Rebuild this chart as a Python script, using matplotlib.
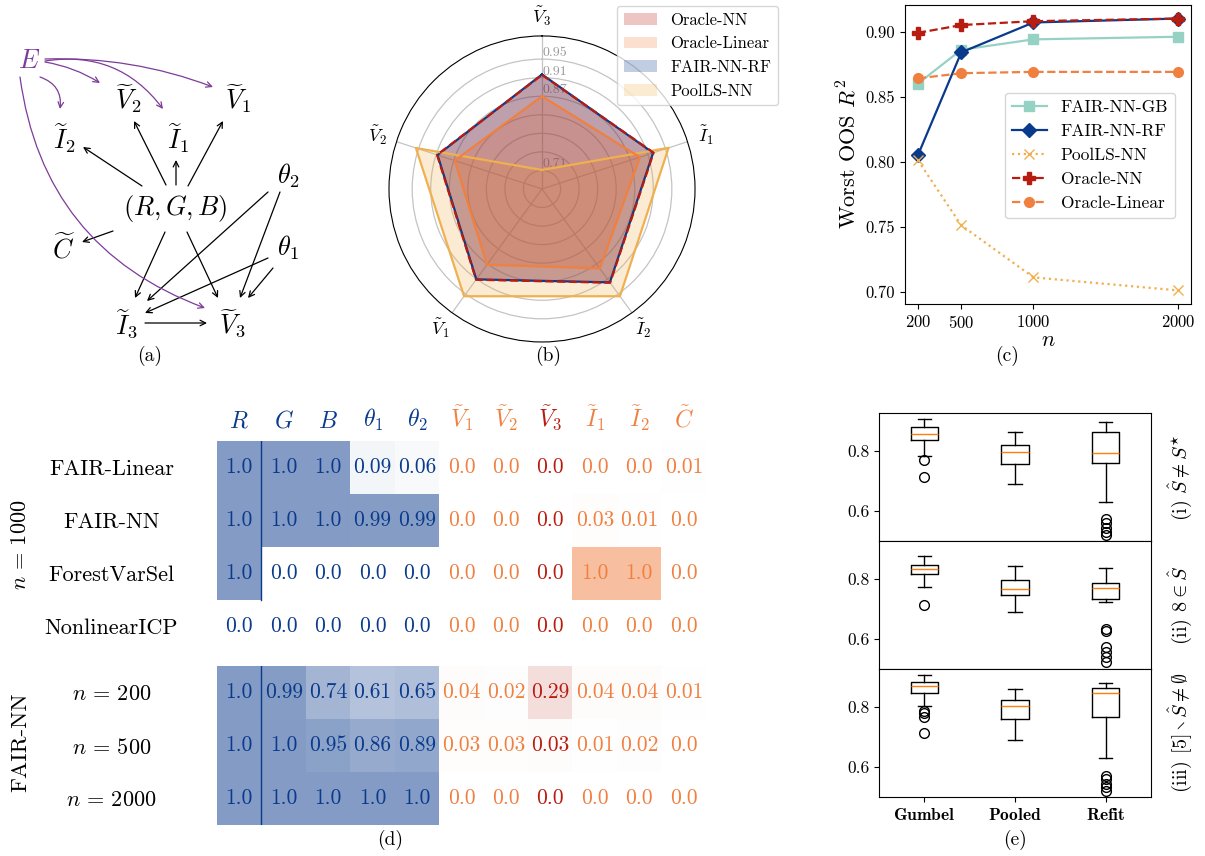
import numpy as np
import matplotlib
matplotlib.use("Agg")
import matplotlib.pyplot as plt
from matplotlib.colors import LinearSegmentedColormap, to_rgb

plt.rcParams['font.family'] = 'serif'
plt.rcParams['font.serif'] = ['cmr10']
plt.rcParams['mathtext.fontset'] = 'cm'
plt.rcParams['axes.formatter.use_mathtext'] = True
plt.rcParams['axes.unicode_minus'] = False

NAVY = '#0a3a8c'
TEAL = '#96d2c3'
GOLD = '#f0b050'
DARKRED = '#b81c10'
ORANGE = '#f08040'
PURPLE = '#7d3c98'

# ---- (b) radar: per-variable R^2 when that variable is intervened on
radar_axes = [r'$\tilde{V}_3$', r'$\tilde{I}_1$', r'$\tilde{I}_2$', r'$\tilde{V}_1$', r'$\tilde{V}_2$']
radar_oracle_nn = [0.916, 0.923, 0.920, 0.912, 0.908]
radar_oracle_lin = [0.870, 0.892, 0.882, 0.872, 0.868]
radar_fair_rf = [0.917, 0.922, 0.919, 0.911, 0.907]
radar_poolls = [0.711, 0.957, 0.956, 0.956, 0.956]

# ---- (c) worst out-of-sample R^2 vs sample size
n_values = [200, 500, 1000, 2000]
worst_fair_gb = [0.860, 0.886, 0.894, 0.896]
worst_fair_rf = [0.805, 0.884, 0.907, 0.910]
worst_poolls = [0.801, 0.751, 0.711, 0.701]
worst_oracle_nn = [0.899, 0.905, 0.908, 0.910]
worst_oracle_lin = [0.864, 0.868, 0.869, 0.869]

# ---- (d) selection frequencies
heat_cols = [r'$R$', r'$G$', r'$B$', r'$\theta_1$', r'$\theta_2$', r'$\tilde{V}_1$', r'$\tilde{V}_2$',
             r'$\tilde{V}_3$', r'$\tilde{I}_1$', r'$\tilde{I}_2$', r'$\tilde{C}$']
col_group = ['b', 'b', 'b', 'b', 'b', 'o', 'o', 'r', 'o', 'o', 'o']
methods_1000 = ['FAIR-Linear', 'FAIR-NN', 'ForestVarSel', 'NonlinearICP']
freq_1000 = [
    [1.0, 1.0, 1.0, 0.09, 0.06, 0.0, 0.0, 0.0, 0.0, 0.0, 0.01],
    [1.0, 1.0, 1.0, 0.99, 0.99, 0.0, 0.0, 0.0, 0.03, 0.01, 0.0],
    [1.0, 0.0, 0.0, 0.0, 0.0, 0.0, 0.0, 0.0, 1.0, 1.0, 0.0],
    [0.0, 0.0, 0.0, 0.0, 0.0, 0.0, 0.0, 0.0, 0.0, 0.0, 0.0],
]
sizes_fair = [r'$n\,=\,200$', r'$n\,=\,500$', r'$n\,=\,2000$']
freq_fair = [
    [1.0, 0.99, 0.74, 0.61, 0.65, 0.04, 0.02, 0.29, 0.04, 0.04, 0.01],
    [1.0, 1.0, 0.95, 0.86, 0.89, 0.03, 0.03, 0.03, 0.01, 0.02, 0.0],
    [1.0, 1.0, 1.0, 1.0, 1.0, 0.0, 0.0, 0.0, 0.0, 0.0, 0.0],
]

# ---- (e) boxplot summaries: (median, q1, q3, low whisker, high whisker, outliers)
box_methods = ['Gumbel', 'Pooled', 'Refit']
box_titles = [r'(i) $\hat{S} \neq S^{\star}$', r'(ii) $8 \in \hat{S}$',
              r'(iii) $[5] \setminus \hat{S} \neq \emptyset$']
box_stats = [
    [(0.858, 0.839, 0.881, 0.783, 0.908, [0.772, 0.713]),
     (0.796, 0.759, 0.822, 0.689, 0.863, []),
     (0.794, 0.762, 0.863, 0.630, 0.899, [0.572, 0.559, 0.544, 0.530, 0.519])],
    [(0.833, 0.817, 0.847, 0.773, 0.878, [0.714]),
     (0.767, 0.747, 0.797, 0.691, 0.844, []),
     (0.770, 0.733, 0.789, 0.724, 0.839, [0.633, 0.628, 0.572, 0.556, 0.539, 0.522])],
    [(0.871, 0.847, 0.884, 0.803, 0.908, [0.788, 0.780, 0.769, 0.713]),
     (0.803, 0.762, 0.823, 0.691, 0.862, []),
     (0.849, 0.769, 0.864, 0.630, 0.880, [0.571, 0.560, 0.543, 0.532, 0.519])],
]

fig = plt.figure(figsize=(12.05, 8.56), dpi=100)

# ================= (a) causal graph =================
ax_a = fig.add_axes([0, 1 - 370 / 856, 320 / 1205, 340 / 856])
ax_a.set_xlim(0, 320)
ax_a.set_ylim(370, 30)
ax_a.axis('off')

nodes = {
    'E': (29, 61, r'$E$', PURPLE),
    'V2': (128, 99, r'$\widetilde{V}_2$', 'black'),
    'V1': (238, 99, r'$\widetilde{V}_1$', 'black'),
    'I2': (65, 138, r'$\widetilde{I}_2$', 'black'),
    'I1': (178, 138, r'$\widetilde{I}_1$', 'black'),
    'th2': (288, 176, r'$\theta_2$', 'black'),
    'RGB': (175, 209, r'$(R, G, B)$', 'black'),
    'th1': (288, 248, r'$\theta_1$', 'black'),
    'C': (64, 248, r'$\widetilde{C}$', 'black'),
    'I3': (127, 324, r'$\widetilde{I}_3$', 'black'),
    'V3': (232, 324, r'$\widetilde{V}_3$', 'black'),
}
for x, y, lab, col in nodes.values():
    ax_a.text(x, y, lab, fontsize=19, color=col, ha='center', va='center')

black_edges = [
    ((142, 186), (83, 147)), ((166, 185), (134, 121)), ((176, 185), (176, 160)),
    ((188, 186), (223, 121)), ((113, 231), (82, 242)), ((165, 232), (135, 298)),
    ((187, 232), (218, 298)), ((268, 192), (147, 301)), ((280, 192), (240, 298)),
    ((268, 258), (145, 313)), ((273, 268), (248, 298)), ((145, 323), (207, 323)),
]
for start, end in black_edges:
    ax_a.annotate('', xy=end, xytext=start,
                  arrowprops=dict(arrowstyle='->', color='black', lw=0.9,
                                  shrinkA=0, shrinkB=0))

purple_edges = [
    ((40, 77), (60, 109), -0.4),
    ((45, 62), (100, 83), -0.1),
    ((45, 61), (163, 109), -0.3),
    ((45, 59), (213, 87), -0.1),
    ((20, 77), (205, 308), 0.3),
]
for start, end, rad in purple_edges:
    ax_a.annotate('', xy=end, xytext=start,
                  arrowprops=dict(arrowstyle='->', color=PURPLE, lw=0.9,
                                  shrinkA=0, shrinkB=0,
                                  connectionstyle=f'arc3,rad={rad}'))
ax_a.text(150, 356, '(a)', fontsize=14, ha='center', va='center')

# ================= (b) radar =================
ax_b = fig.add_axes([0.3228, 0.6005, 0.254, 0.3575], projection='polar')
ax_b.set_theta_offset(np.pi / 2)
ax_b.set_theta_direction(-1)
angles = np.linspace(0, 2 * np.pi, len(radar_axes), endpoint=False)
closed = np.append(angles, angles[0])


def radar_series(values, color, label, ls='-'):
    vals = np.append(values, values[0])
    fill = ax_b.fill(closed, vals, color=color, alpha=0.25, edgecolor='none', label=label)
    ax_b.plot(closed, vals, color=color, lw=1.6, ls=ls)
    return fill[0]


h_rf = radar_series(radar_fair_rf, NAVY, 'FAIR-NN-RF')
h_pool = radar_series(radar_poolls, GOLD, 'PoolLS-NN')
h_lin = radar_series(radar_oracle_lin, ORANGE, 'Oracle-Linear')
h_nn = radar_series(radar_oracle_nn, DARKRED, 'Oracle-NN', ls='--')
ax_b.set_axisbelow(True)
ax_b.set_ylim(0.67, 1.0)
ax_b.set_rgrids([0.71, 0.75, 0.79, 0.83, 0.87, 0.91, 0.95],
                labels=['0.71', '', '', '', '0.87', '0.91', '0.95'],
                fontsize=10, color='#999999')
ax_b.set_rlabel_position(0)
ax_b.set_xticks(angles)
ax_b.set_xticklabels(radar_axes, fontsize=13)
ax_b.grid(color='#c4c4c4', lw=0.9)
fig.legend([h_nn, h_lin, h_rf, h_pool], ['Oracle-NN', 'Oracle-Linear', 'FAIR-NN-RF', 'PoolLS-NN'],
           loc='upper right', bbox_to_anchor=(0.6525, 1.003), fontsize=12,
           handlelength=2.0)
fig.text(548 / 1205, 1 - 356 / 856, '(b)', fontsize=14, ha='center', va='center')

# ================= (c) worst R^2 vs n =================
ax_c = fig.add_axes([0.751, 0.6449, 0.2373, 0.3493])
ax_c.plot(n_values, worst_fair_gb, color=TEAL, marker='s', ms=7, lw=1.6, label='FAIR-NN-GB')
ax_c.plot(n_values, worst_fair_rf, color=NAVY, marker='D', ms=7, lw=1.6, label='FAIR-NN-RF')
ax_c.plot(n_values, worst_poolls, color=GOLD, marker='x', ms=7, lw=1.6, ls=':', label='PoolLS-NN')
ax_c.plot(n_values, worst_oracle_nn, color=DARKRED, marker='P', ms=8, lw=1.6, ls='--', label='Oracle-NN')
ax_c.plot(n_values, worst_oracle_lin, color=ORANGE, marker='o', ms=7, lw=1.6, ls='--', label='Oracle-Linear')
ax_c.set_xticks(n_values)
ax_c.set_yticks([0.70, 0.75, 0.80, 0.85, 0.90])
ax_c.set_yticklabels(['0.70', '0.75', '0.80', '0.85', '0.90'])
ax_c.tick_params(labelsize=12)
ax_c.set_ylabel(r'Worst OOS $R^2$', fontsize=16, labelpad=4)
ax_c.set_xlabel(r'$n$', fontsize=16, labelpad=0)
ax_c.legend(loc='upper right', bbox_to_anchor=(0.975, 0.735), fontsize=12.5)
fig.text(1007 / 1205, 1 - 356 / 856, '(c)', fontsize=14, ha='center', va='center')

# ================= (d) selection frequency tables =================
group_color = {'b': NAVY, 'o': ORANGE, 'r': DARKRED}


def half_cmap(color):
    rgb = np.array(to_rgb(color))
    return LinearSegmentedColormap.from_list('c', [(1, 1, 1), tuple(0.5 * rgb + 0.5)])


def freq_table(ax, freqs, rows, show_cols, line_rows):
    data = np.array(freqs)
    for g, col in group_color.items():
        mask = np.array([[c != g for c in col_group]] * len(rows))
        ax.imshow(np.ma.masked_array(data, mask), cmap=half_cmap(col), vmin=0, vmax=1,
                  aspect='auto', interpolation='nearest')
    for i in range(len(rows)):
        for j in range(len(heat_cols)):
            ax.text(j, i, f'{data[i, j]}', ha='center', va='center', fontsize=15.5,
                    color=group_color[col_group[j]])
    ax.plot([0.5, 0.5], [-0.5, line_rows - 0.5], color=NAVY, lw=1)
    ax.set_xlim(-0.5, len(heat_cols) - 0.5)
    ax.set_ylim(len(rows) - 0.5, -0.5)
    ax.set_yticks(range(len(rows)))
    ax.set_yticklabels(rows, fontsize=16, ha='center')
    ax.tick_params(axis='y', length=0, pad=76)
    if show_cols:
        ax.xaxis.tick_top()
        ax.set_xticks(range(len(heat_cols)))
        ax.set_xticklabels(heat_cols, fontsize=17)
        ax.tick_params(axis='x', length=0, pad=6)
        for lab, g in zip(ax.get_xticklabels(), col_group):
            lab.set_color(group_color[g])
    else:
        ax.set_xticks([])
    for s in ax.spines.values():
        s.set_visible(False)


ax_d1 = fig.add_axes([217 / 1205, 1 - 653 / 856, 489 / 1205, 212 / 856])
freq_table(ax_d1, freq_1000, methods_1000, True, 3)
ax_d2 = fig.add_axes([217 / 1205, 1 - 825 / 856, 489 / 1205, 159 / 856])
freq_table(ax_d2, freq_fair, sizes_fair, False, 3)
fig.text(20 / 1205, 1 - 545 / 856, r'$n\,=\,1000$', fontsize=16, rotation=90, ha='center', va='center')
fig.text(20 / 1205, 1 - 742 / 856, 'FAIR-NN', fontsize=16.5, rotation=90, ha='center', va='center')
fig.text(390 / 1205, 1 - 840 / 856, '(d)', fontsize=14, ha='center', va='center')

# ================= (e) boxplots =================
box_bottoms = [1 - 541 / 856, 1 - 669 / 856, 1 - 797 / 856]
for k in range(3):
    ax = fig.add_axes([879 / 1205, box_bottoms[k], 272 / 1205, 128 / 856])
    stats = []
    for name, (med, q1, q3, lo, hi, fl) in zip(box_methods, box_stats[k]):
        stats.append(dict(label=name, med=med, q1=q1, q3=q3, whislo=lo, whishi=hi, fliers=fl))
    ax.bxp(stats, widths=0.3, medianprops=dict(color='#ff7f0e'),
           flierprops=dict(marker='o', markerfacecolor='none', markeredgecolor='black', markersize=7))
    ax.set_ylim(0.50, 0.928)
    ax.set_xlim(0.5, 3.5)
    ax.set_yticks([0.6, 0.8])
    ax.set_yticklabels(['0.6', '0.8'])
    ax.tick_params(axis='y', labelsize=12.5)
    if k < 2:
        ax.set_xticks([])
    else:
        ax.set_xticks([1, 2, 3])
        ax.set_xticklabels([r'$\mathbf{%s}$' % m for m in box_methods], fontsize=12.5)
    ax.text(1.107, 0.5, box_titles[k], transform=ax.transAxes, rotation=90,
            ha='center', va='center', fontsize=14.5)
fig.text(1015 / 1205, 1 - 840 / 856, '(e)', fontsize=14, ha='center', va='center')

fig.savefig('out.png', dpi=100)
